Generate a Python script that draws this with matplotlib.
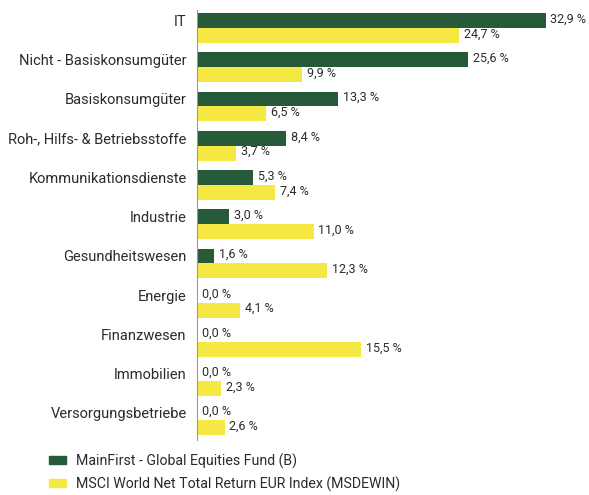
import matplotlib
matplotlib.use('Agg')
import matplotlib.pyplot as plt
from matplotlib.patches import Patch
import numpy as np

plt.rcParams['font.family'] = ['Roboto', 'DejaVu Sans']

# Sektoren und Gewichte in %
sectors = ['IT', 'Nicht - Basiskonsumgüter', 'Basiskonsumgüter', 'Roh-, Hilfs- & Betriebsstoffe',
           'Kommunikationsdienste', 'Industrie', 'Gesundheitswesen', 'Energie', 'Finanzwesen',
           'Immobilien', 'Versorgungsbetriebe']
fund = [32.9, 25.6, 13.3, 8.4, 5.3, 3.0, 1.6, 0.0, 0.0, 0.0, 0.0]
index = [24.7, 9.9, 6.5, 3.7, 7.4, 11.0, 12.3, 4.1, 15.5, 2.3, 2.6]
series_names = ['MainFirst - Global Equities Fund (B)', 'MSCI World Net Total Return EUR Index (MSDEWIN)']

green = '#275a38'
yellow = '#f5e843'
text_col = '#2b2b2b'

fig = plt.figure(figsize=(5.89, 4.95), dpi=100)
ax = fig.add_axes([0.3345, 0.111, 0.6655, 0.869])

y = np.arange(len(sectors))
h = 0.38
ax.barh(y - h / 2, fund, height=h, color=green)
ax.barh(y + h / 2, index, height=h, color=yellow)


def fmt(v):
    return f'{v:.1f} %'.replace('.', ',')


for i in range(len(sectors)):
    ax.annotate(fmt(fund[i]), (fund[i], y[i] - h / 2), xytext=(3.5, 1), textcoords='offset points',
                ha='left', va='center', fontsize=9, color=text_col)
    ax.annotate(fmt(index[i]), (index[i], y[i] + h / 2), xytext=(3.5, 1), textcoords='offset points',
                ha='left', va='center', fontsize=9, color=text_col)

ax.set_xlim(0, 37)
ax.set_ylim(len(sectors) - 0.5, -0.46)
ax.set_yticks(y - h / 2)
ax.set_yticklabels(sectors, fontsize=10.5, color=text_col)
ax.tick_params(axis='y', length=0, pad=7.5)
ax.set_xticks([])
for s in ['top', 'right', 'bottom']:
    ax.spines[s].set_visible(False)
ax.spines['left'].set_color('#999999')
ax.spines['left'].set_linewidth(0.8)

handles = [Patch(color=green), Patch(color=yellow)]
fig.legend(handles, series_names, loc='lower left', bbox_to_anchor=(0.061, -0.019), frameon=False,
           fontsize=10.2, handlelength=1.2, handleheight=0.5, handletextpad=0.75, labelspacing=0.55,
           labelcolor=text_col)

plt.savefig('out.png', dpi=100)
